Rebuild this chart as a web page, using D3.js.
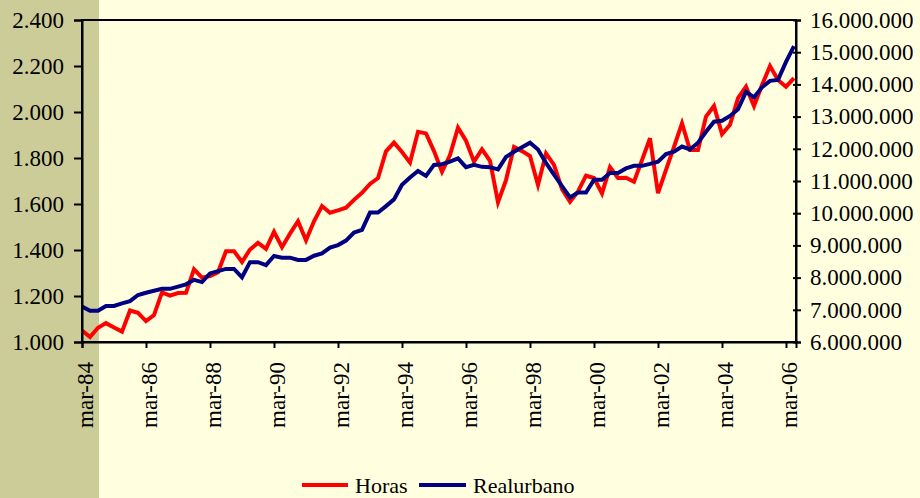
<!DOCTYPE html>
<html>
<head>
<meta charset="utf-8">
<script src="https://cdn.jsdelivr.net/npm/d3@7"></script>
<style>
  html, body { margin: 0; padding: 0; background: #FFFFE0; }
  svg { display: block; }
  text { font-family: "Liberation Serif", "Times New Roman", serif; fill: #000; }
</style>
</head>
<body>
<svg id="chart" width="920" height="498"></svg>
<script>
// Tick labels for the quarterly category axis (every 8 quarters)
const xTickLabels = ["mar-84","mar-86","mar-88","mar-90","mar-92","mar-94","mar-96","mar-98","mar-00","mar-02","mar-04","mar-06"];
const seriesNames = ["Horas", "Realurbano"];
const leftTicks = [1000, 1200, 1400, 1600, 1800, 2000, 2200, 2400];
const rightTicks = [6000000, 7000000, 8000000, 9000000, 10000000, 11000000, 12000000, 13000000, 14000000, 15000000, 16000000];

// Quarterly values, mar-84 .. jun-06 (90 quarters)
const horas = [
  1050, 1022, 1062, 1082, 1063, 1045, 1137, 1127, 1091, 1117,
  1216, 1202, 1213, 1214, 1316, 1280, 1287, 1303, 1395, 1395,
  1348, 1402, 1431, 1405, 1479, 1412, 1471, 1525, 1442, 1525,
  1591, 1562, 1572, 1584, 1618, 1649, 1687, 1713, 1829, 1867,
  1826, 1780, 1914, 1907, 1830, 1740, 1813, 1932, 1875, 1784,
  1838, 1788, 1608, 1704, 1848, 1830, 1809, 1683, 1820, 1770,
  1665, 1610, 1655, 1723, 1713, 1646, 1760, 1713, 1714, 1697,
  1791, 1886, 1647, 1748, 1848, 1951, 1835, 1835, 1980, 2026,
  1904, 1944, 2060, 2110, 2026, 2117, 2200, 2139, 2110, 2147
];
const realurbano = [
  7100000, 6970000, 6970000, 7120000, 7120000, 7200000, 7270000, 7460000, 7530000, 7590000,
  7650000, 7650000, 7720000, 7790000, 7930000, 7860000, 8130000, 8200000, 8270000, 8270000,
  8010000, 8480000, 8480000, 8390000, 8670000, 8620000, 8620000, 8550000, 8550000, 8680000,
  8750000, 8930000, 9010000, 9150000, 9400000, 9480000, 10020000, 10020000, 10220000, 10430000,
  10880000, 11110000, 11310000, 11160000, 11500000, 11520000, 11600000, 11700000, 11430000, 11500000,
  11440000, 11430000, 11360000, 11750000, 11910000, 12050000, 12190000, 11980000, 11560000, 11200000,
  10840000, 10490000, 10640000, 10640000, 11040000, 11040000, 11250000, 11250000, 11390000, 11470000,
  11470000, 11530000, 11600000, 11840000, 11910000, 12070000, 11980000, 12190000, 12530000, 12840000,
  12870000, 13020000, 13230000, 13770000, 13600000, 13910000, 14110000, 14140000, 14700000, 15190000
];
const colors = ["#FF0000", "#000080"];

const svg = d3.select("#chart");
const W = 920, H = 498;
const plot = { left: 82, right: 796, top: 20, bottom: 342 };

const fmt = d3.formatLocale({ decimal: ",", thousands: ".", grouping: [3], currency: ["", ""] }).format(",");

// background
svg.append("rect").attr("x", 0).attr("y", 0).attr("width", W).attr("height", H).attr("fill", "#FFFFE0");
svg.append("rect").attr("x", 0).attr("y", 0).attr("width", 99).attr("height", H).attr("fill", "#CCCC99");

const x = d3.scaleLinear().domain([0, 89.25]).range([plot.left, plot.right]);
const yL = d3.scaleLinear().domain([1000, 2400]).range([plot.bottom, plot.top]);
const yR = d3.scaleLinear().domain([6000000, 16000000]).range([plot.bottom, plot.top]);

// border
svg.append("rect")
  .attr("x", plot.left).attr("y", plot.top)
  .attr("width", plot.right - plot.left).attr("height", plot.bottom - plot.top)
  .attr("fill", "none").attr("stroke", "#000").attr("stroke-width", 2);

// lines
const lineH = d3.line().x((d, i) => x(i)).y(d => yL(d));
const lineR = d3.line().x((d, i) => x(i)).y(d => yR(d));
svg.append("path").datum(horas).attr("d", lineH)
  .attr("fill", "none").attr("stroke", colors[0]).attr("stroke-width", 4).attr("stroke-linejoin", "miter");
svg.append("path").datum(realurbano).attr("d", lineR)
  .attr("fill", "none").attr("stroke", colors[1]).attr("stroke-width", 4).attr("stroke-linejoin", "miter");

// axes
const axL = svg.append("g").attr("transform", `translate(${plot.left},0)`)
  .call(d3.axisLeft(yL).tickValues(leftTicks).tickFormat(fmt).tickSize(8).tickPadding(10));
const axR = svg.append("g").attr("transform", `translate(${plot.right},0)`)
  .call(d3.axisRight(yR).tickValues(rightTicks).tickFormat(fmt).tickSize(5).tickPadding(9));
const xTickIdx = xTickLabels.map((d, i) => i * 8);
const axB = svg.append("g").attr("transform", `translate(0,${plot.bottom})`)
  .call(d3.axisBottom(x).tickValues(xTickIdx).tickFormat((d, i) => xTickLabels[i]).tickSize(6).tickPadding(0));

[axL, axR, axB].forEach(ax => {
  ax.attr("font-family", null).attr("font-size", null);
  ax.select(".domain").attr("stroke", "#000").attr("stroke-width", 2);
  ax.selectAll(".tick line").attr("stroke", "#000").attr("stroke-width", 2);
  ax.selectAll("text").style("font-family", '"Liberation Serif", "Times New Roman", serif').style("font-size", "23px").attr("fill", "#000");
});
// right ticks cross the axis slightly
axR.selectAll(".tick line").attr("x1", -3);

axB.selectAll(".tick text")
  .attr("transform", "rotate(-90)")
  .attr("text-anchor", "end")
  .attr("x", -20)
  .attr("y", 2)
  .attr("dy", "0.35em");

// legend
const legend = svg.append("g");
const legItems = [
  { name: seriesNames[0], color: colors[0], x1: 302, x2: 348, tx: 355 },
  { name: seriesNames[1], color: colors[1], x1: 419, x2: 466, tx: 473 }
];
legItems.forEach(it => {
  legend.append("line").attr("x1", it.x1).attr("x2", it.x2).attr("y1", 485).attr("y2", 485)
    .attr("stroke", it.color).attr("stroke-width", 4);
  legend.append("text").attr("x", it.tx).attr("y", 493).style("font-size", "22px").text(it.name);
});
</script>
</body>
</html>
